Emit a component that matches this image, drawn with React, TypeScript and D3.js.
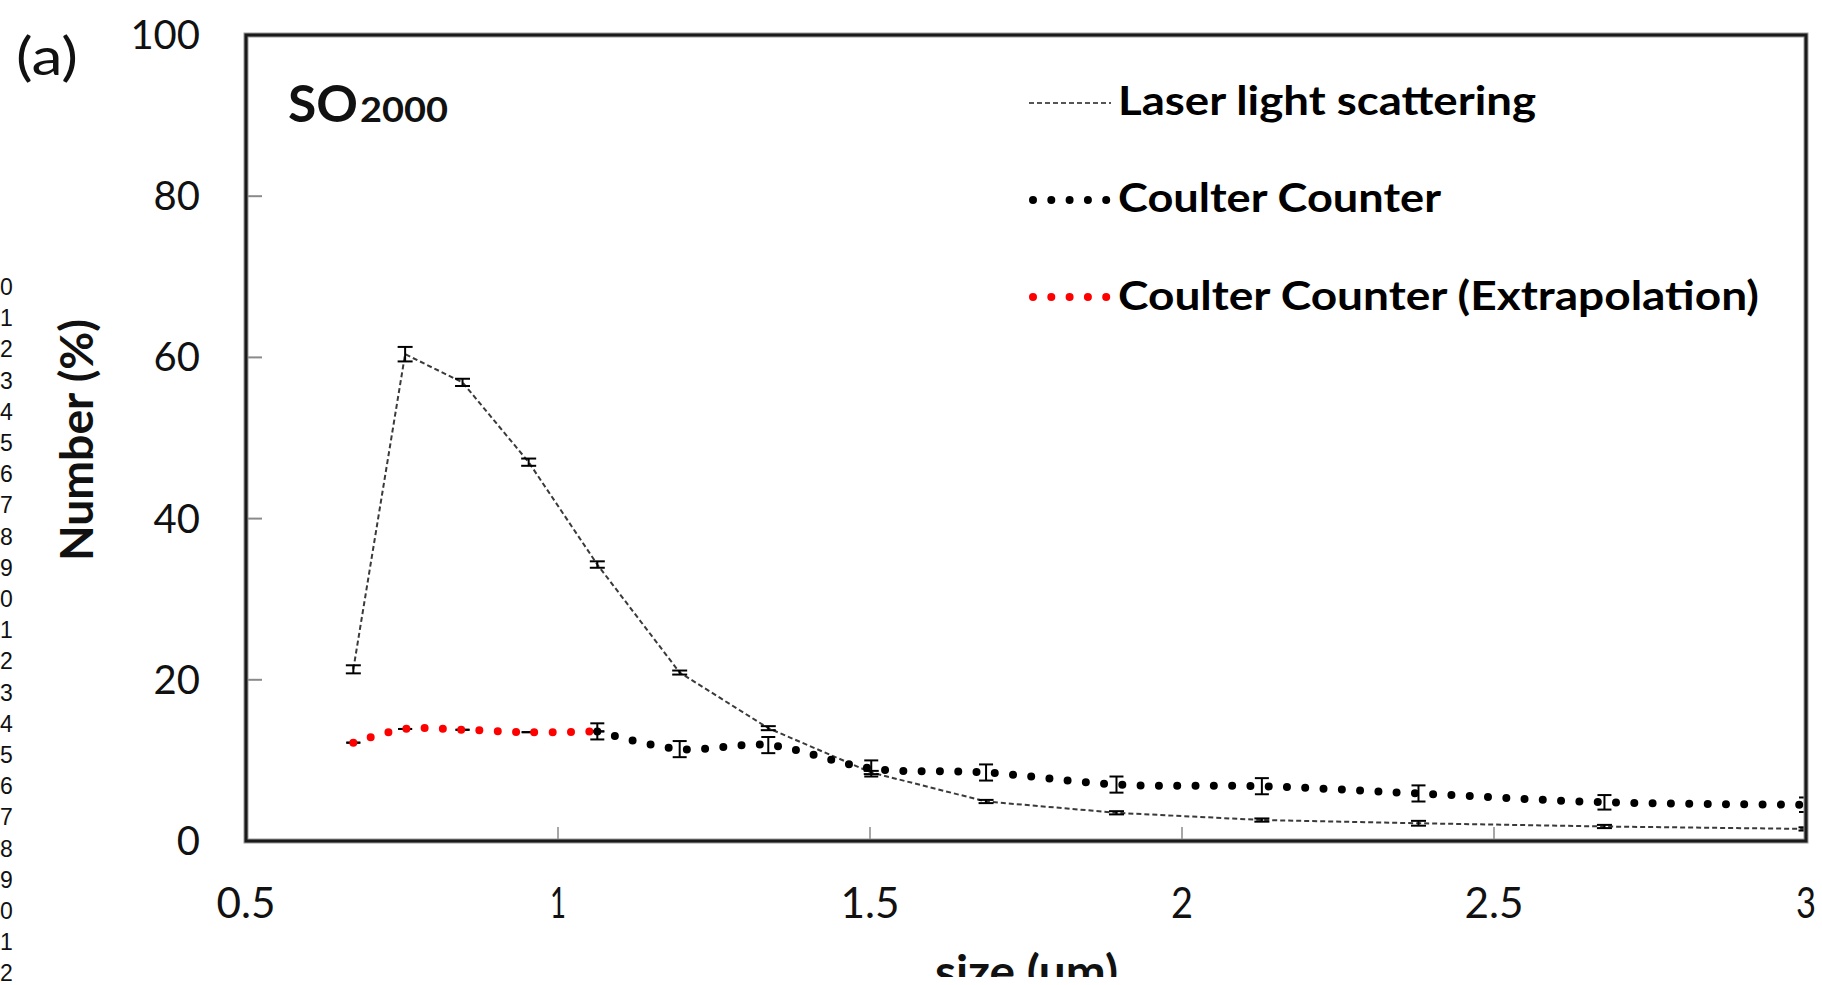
import React from "react";
import * as d3 from "d3";

// ---- data ----
const sizes = [0.672, 0.755, 0.847, 0.953, 1.063, 1.195, 1.337, 1.502, 1.686, 1.895, 2.128, 2.379, 2.677, 3.0];
const laserValues = [21.3, 60.4, 56.9, 47.0, 34.3, 20.9, 14.0, 8.5, 4.9, 3.5, 2.6, 2.2, 1.8, 1.5];
const laserErrors = [0.5, 0.9, 0.45, 0.45, 0.4, 0.25, 0.25, 0.2, 0.2, 0.2, 0.2, 0.3, 0.2, 0.2];
const coulterSizes = [1.063, 1.195, 1.337, 1.502, 1.686, 1.895, 2.128, 2.379, 2.677, 3.0];
const coulterValues = [13.6, 11.4, 11.9, 9.0, 8.5, 7.0, 6.8, 5.9, 4.8, 4.5];
const coulterErrors = [1.0, 1.0, 1.0, 1.0, 1.0, 1.0, 1.0, 1.0, 0.9, 0.9];
const extrapSizes = [0.672, 0.755, 0.847, 0.953, 1.063];
const extrapValues = [12.2, 13.9, 13.8, 13.5, 13.6];
const extrapErrors = [0, 0, 0, 0, 0];
const xTicks = [0.5, 1, 1.5, 2, 2.5, 3];
const xTickLabels = ["0.5", "1", "1.5", "2", "2.5", "3"];
const yTicks = [0, 20, 40, 60, 80, 100];
const legendLabels = ["Laser light scattering", "Coulter Counter", "Coulter Counter (Extrapolation)"];
const sideNumbers = ["0", "1", "2", "3", "4", "5", "6", "7", "8", "9", "0", "1", "2", "3", "4", "5", "6", "7", "8", "9", "0", "1", "2"];

const W = 1822;
const H = 985;
const L = 246, R = 1806, T = 35, B = 841;
const FONT = "Lato, 'Open Sans', sans-serif";

export default function App() {
  const x = d3.scaleLinear().domain([0.5, 3]).range([L, R]);
  const y = d3.scaleLinear().domain([0, 100]).range([B, T]);

  const laserLine = d3.line<number>().x((_, i) => x(sizes[i])).y((v) => y(v)).curve(d3.curveLinear);
  const coulterLine = d3.line<number>().x((_, i) => x(coulterSizes[i])).y((v) => y(v)).curve(d3.curveCatmullRom.alpha(0.5));
  const extrapLine = d3.line<number>().x((_, i) => x(extrapSizes[i])).y((v) => y(v)).curve(d3.curveCatmullRom.alpha(0.5));

  const errBars = (xs: number[], vs: number[], es: number[], key: string, cap: number) =>
    vs.map((v, i) => {
      const cx = x(xs[i]);
      const y1 = y(v + es[i]);
      const y2 = y(v - es[i]);
      return (
        <g key={key + i} stroke="#000" strokeWidth={2}>
          {es[i] > 0 && <line x1={cx} x2={cx} y1={y1} y2={y2} />}
          <line x1={cx - cap} x2={cx + cap} y1={y1} y2={y1} />
          <line x1={cx - cap} x2={cx + cap} y1={y2} y2={y2} />
        </g>
      );
    });

  const legendX1 = 1029, legendX2 = 1111;
  const legendYs = [103, 200, 297];
  const legendBaselines = [115, 212, 310];
  const legendLengths = [418, 323, 641];
  const xLabelLengths = [59, 16, 59, 22, 59, 20];
  const DOT = 8;
  const DASH = "0,18.3";

  return (
    <svg
      width={W}
      height={H}
      style={{ position: "absolute", left: 0, top: 0, background: "#fff" }}
      fontFamily={FONT}
    >
      <defs>
        <clipPath id="plotClip">
          <rect x={L} y={T} width={R - L} height={B - T} />
        </clipPath>
        <clipPath id="bottomClip">
          <rect x={0} y={0} width={W} height={977} />
        </clipPath>
      </defs>
      <rect x={0} y={0} width={W} height={H} fill="#fff" />

      {/* stray side numbers */}
      {sideNumbers.map((s, i) => (
        <text key={"sn" + i} x={0} y={287 + i * 31.2 + 8} fontSize={23} fontFamily="'Liberation Sans', Arial, sans-serif" fill="#111">
          {s}
        </text>
      ))}

      {/* panel label */}
      <text x={16} y={75} fontSize={52} fill="#111" textLength={62} lengthAdjust="spacingAndGlyphs">(a)</text>

      {/* ticks */}
      {xTicks.slice(1, -1).map((t) => (
        <line key={"xt" + t} x1={x(t)} x2={x(t)} y1={B} y2={B - 14} stroke="#8a8a8a" strokeWidth={1.5} />
      ))}
      {yTicks.slice(1, -1).map((t) => (
        <line key={"yt" + t} x1={L} x2={L + 16} y1={y(t)} y2={y(t)} stroke="#8a8a8a" strokeWidth={2} />
      ))}

      {/* y tick labels */}
      {yTicks.map((t) => (
        <text key={"yl" + t} x={200} y={y(t) + 14} textAnchor="end" fontSize={40} fill="#111">
          {t}
        </text>
      ))}
      {/* x tick labels */}
      {xTicks.map((t, i) => (
        <text
          key={"xl" + t}
          x={x(t) - xLabelLengths[i] / 2}
          y={918}
          fontSize={43}
          fill="#111"
          textLength={xLabelLengths[i]}
          lengthAdjust="spacingAndGlyphs"
        >
          {xTickLabels[i]}
        </text>
      ))}

      {/* axis titles */}
      <text
        transform="translate(93,440) rotate(-90)"
        textAnchor="middle"
        fontSize={46}
        fontWeight="bold"
        fill="#111"
        textLength={242}
        lengthAdjust="spacingAndGlyphs"
      >
        Number (%)
      </text>
      <g clipPath="url(#bottomClip)">
        <text x={935} y={988} fontSize={46} fontWeight="bold" fill="#111" textLength={183} lengthAdjust="spacingAndGlyphs">
          size (um)
        </text>
      </g>

      {/* series */}
      <g clipPath="url(#plotClip)">
        <path d={laserLine(laserValues) || ""} fill="none" stroke="#3a3a3a" strokeWidth={2} strokeDasharray="5,3" />
        {errBars(extrapSizes, extrapValues, extrapErrors, "ee", 7)}
        <path d={extrapLine(extrapValues) || ""} fill="none" stroke="#ff0000" strokeWidth={DOT} strokeDasharray={DASH} strokeLinecap="round" />
        <path d={coulterLine(coulterValues) || ""} fill="none" stroke="#000" strokeWidth={DOT} strokeDasharray={DASH} strokeLinecap="round" />
        {errBars(sizes, laserValues, laserErrors, "le", 7.5)}
        {errBars(coulterSizes, coulterValues, coulterErrors, "ce", 7)}
      </g>

      {/* frame */}
      <rect x={L} y={T} width={R - L} height={B - T} fill="none" stroke="#9a9a9a" strokeWidth={5} />
      <rect x={L} y={T} width={R - L} height={B - T} fill="none" stroke="#1a1a1a" strokeWidth={3} />

      {/* title */}
      <text x={288} y={122} fontSize={51} fontWeight="bold" fill="#111" textLength={70} lengthAdjust="spacingAndGlyphs">SO</text>
      <text x={360} y={122} fontSize={35} fontWeight="bold" fill="#111" textLength={88} lengthAdjust="spacingAndGlyphs">2000</text>

      {/* legend */}
      <line x1={legendX1} x2={legendX2} y1={legendYs[0]} y2={legendYs[0]} stroke="#555" strokeWidth={2} strokeDasharray="5,3" />
      <line x1={legendX1 + 4} x2={legendX2 - 4} y1={legendYs[1]} y2={legendYs[1]} stroke="#000" strokeWidth={DOT} strokeDasharray={DASH} strokeLinecap="round" />
      <line x1={legendX1 + 4} x2={legendX2 - 4} y1={legendYs[2]} y2={legendYs[2]} stroke="#ff0000" strokeWidth={DOT} strokeDasharray={DASH} strokeLinecap="round" />
      {legendLabels.map((lab, i) => (
        <text
          key={"lg" + i}
          x={1118}
          y={legendBaselines[i]}
          fontSize={41}
          fontWeight="bold"
          fill="#000"
          textLength={legendLengths[i]}
          lengthAdjust="spacingAndGlyphs"
        >
          {lab}
        </text>
      ))}
    </svg>
  );
}
